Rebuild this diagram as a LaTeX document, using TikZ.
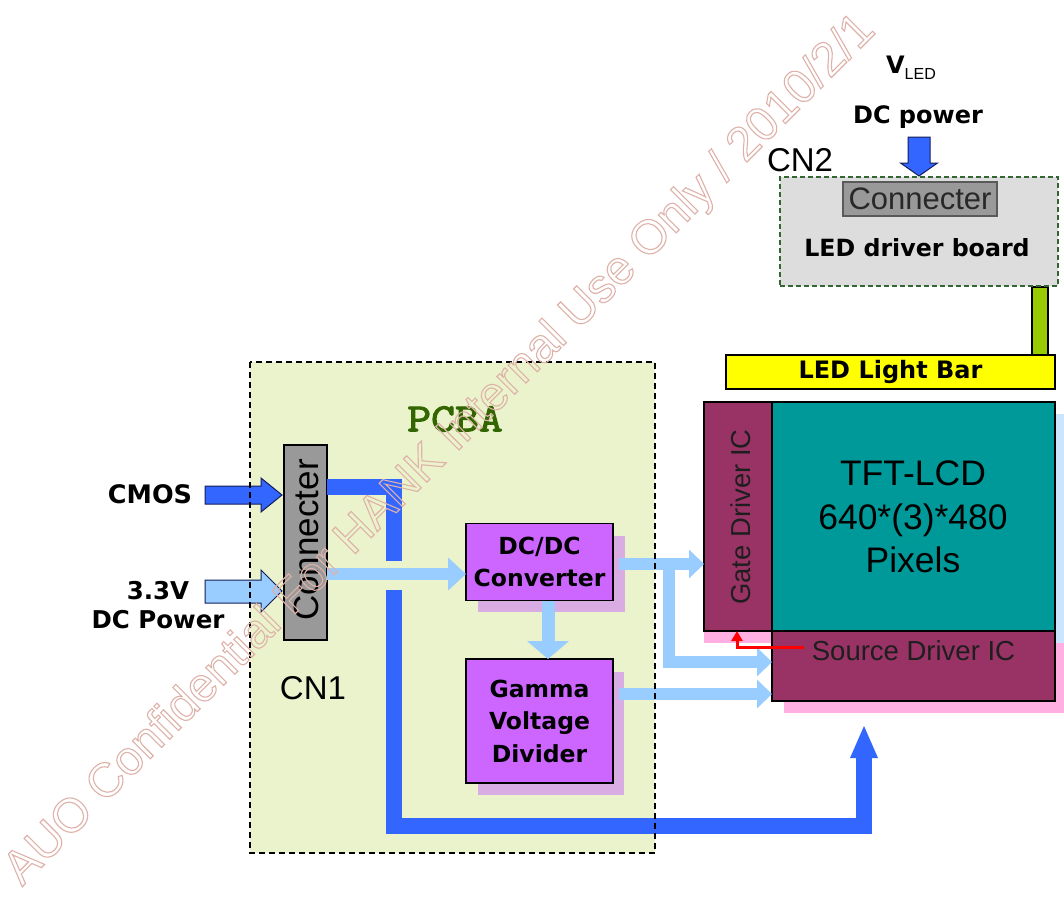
\documentclass[tikz,border=0pt]{standalone}
\usepackage{fontspec}
\setmainfont{Liberation Sans}
\newfontfamily\verd{DejaVu Sans}
\newfontfamily\courb{Latin Modern Mono}[FakeBold=2.5]
\usetikzlibrary{arrows.meta,calc}
\definecolor{pcbagreen}{RGB}{234,243,204}
\definecolor{pcbatext}{RGB}{51,102,0}
\definecolor{cgray}{RGB}{153,153,153}
\definecolor{dblue}{RGB}{51,102,255}
\definecolor{lblue}{RGB}{153,204,255}
\definecolor{navy}{RGB}{20,30,90}
\definecolor{purp}{RGB}{204,102,255}
\definecolor{purpsh}{RGB}{218,172,228}
\definecolor{maroonic}{RGB}{153,51,102}
\definecolor{tftteal}{RGB}{0,153,153}
\definecolor{pinksh}{RGB}{255,175,225}
\definecolor{bluesh}{RGB}{204,229,255}
\definecolor{ledyellow}{RGB}{255,255,0}
\definecolor{ledgreen}{RGB}{153,204,0}
\definecolor{boardgray}{RGB}{221,221,221}
\definecolor{boardedge}{RGB}{51,102,51}
\definecolor{connedge}{RGB}{90,90,90}
\definecolor{conntext}{RGB}{40,40,40}
\definecolor{ictext}{RGB}{30,30,30}
\definecolor{wm}{RGB}{222,178,168}
\begin{document}
\begin{tikzpicture}[x=1pt,y=-1pt,
  blk/.style={draw=black, line width=1.2pt, inner sep=0pt, outer sep=0pt},
  vbold/.style={font=\verd\bfseries\fontsize{#1}{#1}\selectfont},
  arial/.style={font=\fontsize{#1}{#1}\selectfont},
  lbarrow/.style={draw=lblue, line width=12pt, line join=miter, -{Triangle[length=15pt,width=28pt]}},
  busline/.style={draw=dblue, line width=16pt, line join=miter},
  inarrow/.style={draw=navy, line width=1pt, line join=miter}
]
\fill[white] (0,0) rectangle (1064,899);
\useasboundingbox (0,0) rectangle (1064,899);

% PCBA board
\node[inner sep=0pt, outer sep=0pt, fill=pcbagreen, minimum width=405pt, minimum height=491pt] (pcba) at (452.5,607.5) {};
\node[font=\courb\fontsize{40}{40}\selectfont, text=pcbatext] (pcbalbl) at (455,419) {\scalebox{1.16}[1]{PCBA}};

% shadows
\fill[purpsh] (478,536) rectangle (625,612);
\fill[purpsh] (478,672) rectangle (624,795);
\fill[bluesh] (784,414) rectangle (1067,643);
\fill[pinksh] (784,643) rectangle (1067,713);
\fill[pinksh] (704,631) rectangle (772,643);

% CN1 connector
\node[blk, fill=cgray, minimum width=43pt, minimum height=195pt] (cn1) at (305.5,542.5) {};
\node[rotate=90, arial=35, inner sep=0pt] (cn1txt) at (306,540) {Connecter};
\node[arial=33] (cn1lbl) at (313,688) {CN1};

% inputs
\node[vbold=25.5] (cmos) at (150,494) {CMOS};
\node[vbold=24.5, align=center] (pwr) at (158,605) {3.3V\\[5pt]DC Power};
\coordinate (cmostip) at (282,495);
\coordinate (pwrtip) at (282,591);
\draw[inarrow, fill=dblue] (cmostip) -- ++(-21,-17) -- ++(0,8) -- ++(-56,0) -- ++(0,18) -- ++(56,0) -- ++(0,8) -- cycle;
\draw[inarrow, fill=lblue] (pwrtip) -- ++(-21,-21) -- ++(0,10) -- ++(-56,0) -- ++(0,23) -- ++(56,0) -- ++(0,9) -- cycle;

% DC/DC and Gamma
\node[blk, fill=purp, minimum width=147pt, minimum height=77pt, vbold=23.5, align=center] (dcdc) at (539.5,562) {DC/DC\\[8pt]Converter};
\node[blk, fill=purp, minimum width=147pt, minimum height=124pt, font=\verd\bfseries\fontsize{23.5}{32.5}\selectfont, align=center] (gamma) at (539.5,721) {Gamma\\Voltage\\Divider};

% panel
\node[blk, fill=maroonic, minimum width=68pt, minimum height=229pt] (gate) at (738,516.5) {};
\node[blk, fill=tftteal, minimum width=283pt, minimum height=229pt] (tft) at (913.5,516.5) {};
\node[font=\fontsize{35.5}{43.5}\selectfont, align=center] (tfttxt) at (913,517) {TFT-LCD\\640*(3)*480\\Pixels};
\node[blk, fill=maroonic, minimum width=283pt, minimum height=70pt] (source) at (913.5,666) {};
\node[rotate=90, arial=27.4, text=ictext, inner sep=0pt] (gatetxt) at (741,517) {Gate Driver IC};
\node[arial=27.5, text=ictext, inner sep=0pt] (sourcetxt) at (913.5,651) {Source Driver IC};

% LED light bar and driver board
\node[blk, fill=ledyellow, minimum width=329pt, minimum height=34pt, vbold=24] (ledbar) at (890.5,372) {LED Light Bar};
\node[blk, fill=ledgreen, minimum width=16pt, minimum height=68pt] (ledlink) at (1040,321) {};
\node[inner sep=0pt, outer sep=0pt, fill=boardgray, draw=boardedge, line width=1.2pt, dash pattern=on 5pt off 3pt, minimum width=278pt, minimum height=109pt] (board) at (919,231.5) {};
\node[inner sep=0pt, fill=cgray, draw=connedge, line width=1.5pt, minimum width=154pt, minimum height=34pt, arial=31, text=conntext] (bconn) at (920,199) {Connecter};
\node[vbold=23.7] (boardlbl) at (917,248) {LED driver board};
\node[arial=33] (cn2lbl) at (800,160) {CN2};
\node[vbold=24] (dcpwr) at (918,117) {DC power};
\node[inner sep=0pt] (vled) at (911,68) {{\verd\bfseries\fontsize{24}{24}\selectfont V}{\fontsize{16}{16}\selectfont\raisebox{-6pt}{LED}}};
\coordinate (vledtip) at (919,176);
\draw[inarrow, fill=dblue] (vledtip) -- ++(-18.5,-13) -- ++(7.5,0) -- ++(0,-26) -- ++(22,0) -- ++(0,26) -- ++(7.5,0) -- cycle;

% data bus (dark blue)
\draw[busline] (cn1.east |- 0,486.5) -- (394,486.5) -- (394,561);
\draw[busline] (394,590) -- (394,826) -- (864,826) -- (864,756);
\fill[dblue] (850,758) -- (878,758) -- (864,726) -- cycle;

% power lines (light blue)
\draw[lbarrow, -{Triangle[length=18pt,width=32pt]}] (cn1.east |- 0,574) -- (dcdc.west |- 0,574);
\draw[lbarrow, line width=13pt, -{Triangle[length=18pt,width=41pt]}] (548,601) -- (gamma.north -| 548,0);
\draw[lbarrow] (619,564) -- (gate.west |- 0,564);
\draw[lbarrow] (669,558) -- (669,662) -- (source.west |- 0,662);
\draw[lbarrow] (619,694) -- (source.west |- 0,694);

% red link
\draw[red, line width=3pt, -{Triangle[length=10pt,width=11pt]}] (804,647) -- (737,647) -- (gate.south -| 737,0);

% PCBA border on top
\draw[black, line width=1.3pt, dash pattern=on 6pt off 4pt] (pcba.north west) rectangle (pcba.south east);

% watermark
\node[rotate=45, anchor=base west, inner sep=0pt, text=wm, font=\fontsize{47.8}{47.8}\selectfont] (wmark) at (22,887) {\special{pdf:literal direct 1 Tr 1.1 w}AUO Confidential For HANK Internal Use Only / 2010/2/1\special{pdf:literal direct 0 Tr}};
\end{tikzpicture}
\end{document}
